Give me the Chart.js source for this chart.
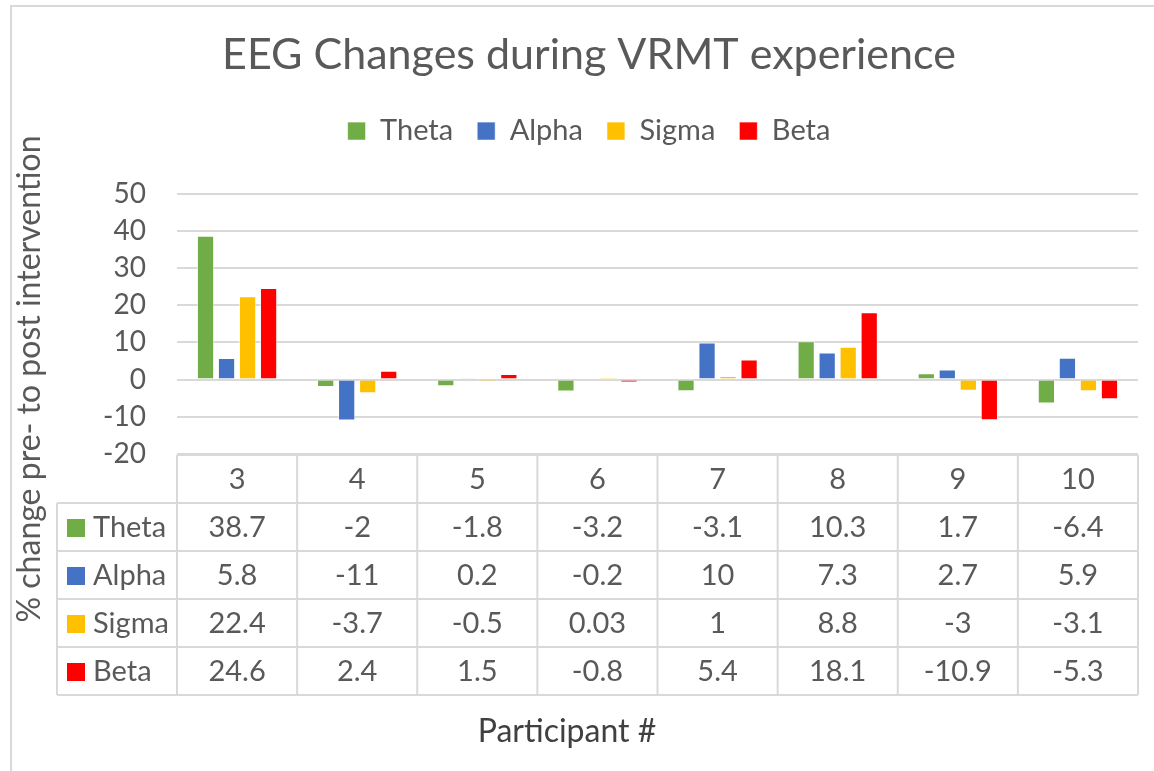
<!DOCTYPE html>
<html>
<head>
<meta charset="utf-8">
<script src="https://cdn.jsdelivr.net/npm/chart.js@4"></script>
<style>
  body { margin: 0; background: #fff; }
  #frame { position: absolute; left: 10px; top: 5px; width: 1200px; height: 800px;
           border-left: 2px solid #d9d9d9; border-top: 2px solid #d9d9d9; }
  #wrap { position: absolute; left: 0; top: 0; width: 1154px; height: 771px; }
</style>
</head>
<body>
<div id="frame"></div>
<div id="wrap"><canvas id="eegCanvas" width="1154" height="771"></canvas></div>
<script>
// participants along the x axis
var participants = ['3', '4', '5', '6', '7', '8', '9', '10'];

// % change pre- to post intervention
var theta = [38.7, -2, -1.8, -3.2, -3.1, 10.3, 1.7, -6.4];
var alpha = [5.8, -11, 0.2, -0.2, 10, 7.3, 2.7, 5.9];
var sigma = [22.4, -3.7, -0.5, 0.03, 1, 8.8, -3, -3.1];
var beta  = [24.6, 2.4, 1.5, -0.8, 5.4, 18.1, -10.9, -5.3];

var yTicks = [50, 40, 30, 20, 10, 0, -10, -20];

var textColor = '#595959';
var gridColor = '#d9d9d9';
var fontFamily = 'Lato, "Open Sans", sans-serif';

function ds(label, data, color) {
    return {
        label: label,
        data: data,
        backgroundColor: color,
        borderColor: 'rgba(255,255,255,0.6)',
        borderWidth: 1,
        categoryPercentage: 0.7,
        barPercentage: 0.82
    };
}

// extra room between the legend and the plot
var legendGap = {
    id: 'legendGap',
    beforeInit: function (chart) {
        var fit = chart.legend.fit;
        chart.legend.fit = function () {
            fit.bind(chart.legend)();
            this.height += 38;
        };
    }
};

// draws the data table under the plot, the y title and the x title
var dataTable = {
    id: 'dataTable',
    afterDraw: function (chart) {
        var ctx = chart.ctx;
        var xs = chart.scales.x;
        var area = chart.chartArea;
        var n = participants.length;
        var colW = (area.right - area.left) / n;
        var rowH = 48;
        var top = area.bottom + 1;
        var keyLeft = 57;
        var rows = chart.data.datasets;

        ctx.save();
        ctx.strokeStyle = gridColor;
        ctx.lineWidth = 2;
        ctx.beginPath();
        // horizontal lines
        ctx.moveTo(area.left, top); ctx.lineTo(area.right, top);
        for (var r = 1; r <= rows.length + 1; r++) {
            var y = top + r * rowH;
            ctx.moveTo(keyLeft, y); ctx.lineTo(area.right, y);
        }
        // vertical lines
        var bottom = top + (rows.length + 1) * rowH;
        ctx.moveTo(keyLeft, top + rowH); ctx.lineTo(keyLeft, bottom);
        for (var c = 0; c <= n; c++) {
            var x = area.left + c * colW;
            ctx.moveTo(x, top); ctx.lineTo(x, bottom);
        }
        ctx.stroke();

        ctx.fillStyle = textColor;
        ctx.font = '29px ' + fontFamily;
        ctx.textAlign = 'center';
        ctx.textBaseline = 'middle';
        participants.forEach(function (p, i) {
            ctx.fillText(p, xs.getPixelForTick(i), top + rowH / 2 + 1);
        });
        rows.forEach(function (d, r) {
            var cy = top + (r + 1) * rowH + rowH / 2 + 1;
            ctx.fillStyle = d.backgroundColor;
            ctx.fillRect(67, cy - 9, 18, 18);
            ctx.fillStyle = textColor;
            ctx.textAlign = 'left';
            ctx.fillText(d.label, 93, cy);
            ctx.textAlign = 'center';
            d.data.forEach(function (v, i) {
                ctx.fillText(String(v), xs.getPixelForTick(i), cy);
            });
        });

        // y axis title
        ctx.save();
        ctx.translate(30, 379);
        ctx.rotate(-Math.PI / 2);
        ctx.font = '32px ' + fontFamily;
        ctx.fillText('% change pre- to post intervention', 0, 0);
        ctx.restore();

        // x axis title
        ctx.fillStyle = '#404040';
        ctx.font = '32px ' + fontFamily;
        ctx.fillText('Participant #', 567, 732);
        ctx.restore();
    }
};

new Chart(document.getElementById('eegCanvas'), {
    type: 'bar',
    data: {
        labels: participants,
        datasets: [
            ds('Theta', theta, '#70ad47'),
            ds('Alpha', alpha, '#4472c4'),
            ds('Sigma', sigma, '#ffc000'),
            ds('Beta', beta, '#ff0000')
        ]
    },
    options: {
        responsive: false,
        animation: false,
        events: [],
        layout: { padding: { top: 0, right: 16, bottom: 309, left: 40 } },
        plugins: {
            title: {
                display: true,
                text: 'EEG Changes during VRMT experience',
                color: textColor,
                font: { family: fontFamily, size: 43, weight: 'normal' },
                padding: { top: 29, bottom: 12 }
            },
            legend: {
                display: true,
                labels: {
                    color: textColor,
                    font: { family: fontFamily, size: 29 },
                    boxWidth: 18,
                    boxHeight: 18,
                    padding: 24
                }
            },
            tooltip: { enabled: false }
        },
        scales: {
            x: {
                grid: { display: false },
                border: { display: false },
                ticks: { display: false }
            },
            y: {
                min: -20,
                max: 50,
                afterFit: function (s) { s.width = 137; },
                afterBuildTicks: function (s) {
                    s.ticks = yTicks.map(function (v) { return { value: v }; });
                },
                grid: { color: gridColor, lineWidth: 2, drawTicks: false },
                border: { display: false },
                ticks: {
                    color: textColor,
                    font: { family: fontFamily, size: 28 },
                    padding: 31
                }
            }
        }
    },
    plugins: [legendGap, dataTable]
});
</script>
</body>
</html>
